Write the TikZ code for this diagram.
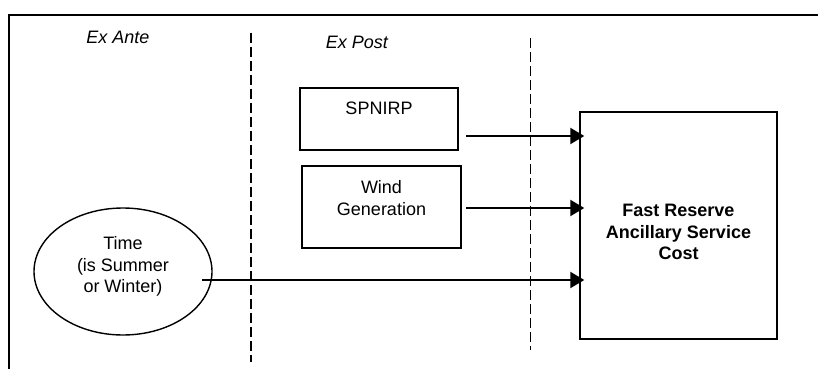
\documentclass[tikz,border=0pt]{standalone}
\usepackage{fontspec}
\setmainfont{Liberation Sans}
\usepackage{tikz}
\usetikzlibrary{arrows.meta, shapes.geometric}

\tikzset{
	box/.style={draw, line width=0.7pt, inner sep=0pt},
	txt/.style={align=center, inner sep=0pt, font=\fontsize{9}{10.8}\selectfont},
	arr/.style={line width=1pt, -{Triangle[length=7pt,width=8pt]}, shorten >=-2.5pt},
}

\begin{document}
\begin{tikzpicture}[x=0.5pt, y=-0.5pt]
	\useasboundingbox (0,0) rectangle (818,369);
	\draw[line width=0.9pt] (818,15) -- (9,15) -- (9,369);
	\node[txt, font=\fontsize{9}{10.8}\selectfont\itshape] (exante) at (118,37) {Ex Ante};
	\node[txt, font=\fontsize{9}{10.8}\selectfont\itshape] (expost) at (357,42) {Ex Post};
	\draw[line width=1.2pt, dash pattern=on 5pt off 2pt] (251,33) -- (251,362);
	\draw[line width=0.5pt, dash pattern=on 5pt off 2pt] (530,38) -- (530,350);
	\node[box, minimum width=79pt, minimum height=31pt] (spnirp) at (379,119) {};
	\node[txt] (spnirptxt) at (379,108) {SPNIRP};
	\node[box, minimum width=79.5pt, minimum height=41pt] (wind) at (381.5,207) {};
	\node[txt] (windtxt) at (381.5,198) {Wind\\Generation};
	\node[box, ellipse, minimum width=89pt, minimum height=63.5pt] (time) at (123,271.5) {};
	\node[txt] (timetxt) at (123,266.5) {Time\\(is Summer\\or Winter)};
	\node[box, minimum width=98.5pt, minimum height=113.5pt] (cost) at (678.5,225.5) {};
	\node[txt, font=\fontsize{9}{10.8}\selectfont\bfseries] (costtxt) at (678.5,232) {Fast Reserve\\Ancillary Service\\Cost};
	\coordinate (s1) at (466,136);
	\coordinate (s2) at (466,208);
	\coordinate (s3) at (202,280);
	\draw[arr] (s1) -- (s1 -| cost.west);
	\draw[arr] (s2) -- (s2 -| cost.west);
	\draw[arr] (s3) -- (s3 -| cost.west);
\end{tikzpicture}
\end{document}
